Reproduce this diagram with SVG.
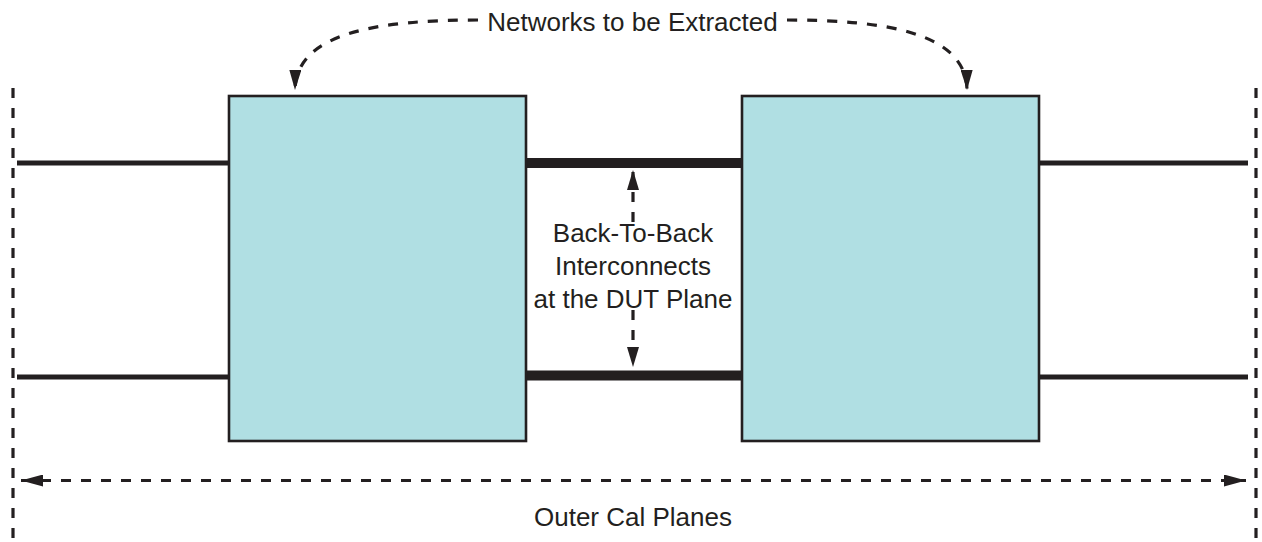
<svg xmlns="http://www.w3.org/2000/svg" width="1262" height="542" viewBox="0 0 1262 542">
<defs>
<style>
.box{fill:#b0dfe3;stroke:#231f20;stroke-width:2.6}
.wire{stroke:#231f20;stroke-width:5;fill:none}
.thick{stroke:#231f20;stroke-width:10;fill:none}
.dash{stroke:#231f20;stroke-width:3.2;fill:none;stroke-dasharray:10 10}
.lbl{font-family:"Liberation Sans",Arial,sans-serif;font-size:26px;fill:#231f20;text-anchor:middle}
</style>
<marker id="ah" viewBox="0 0 22 12" refX="22" refY="6" markerWidth="22" markerHeight="12" markerUnits="userSpaceOnUse" orient="auto-start-reverse">
<path d="M0,0 L22,6 L0,12 Z" fill="#231f20"/>
</marker>
<marker id="ahs" viewBox="0 0 20 12" refX="20" refY="6" markerWidth="20" markerHeight="12" markerUnits="userSpaceOnUse" orient="auto">
<path d="M0,0 L20,6 L0,12 Z" fill="#231f20"/>
</marker>
</defs>
<rect width="1262" height="542" fill="#ffffff"/>
<g id="connectors">
<line class="dash" x1="13" y1="88" x2="13" y2="542" stroke-dasharray="11 10"/>
<line class="dash" x1="1256" y1="88" x2="1256" y2="542" stroke-dasharray="11 10"/>
<line class="wire" x1="17" y1="163" x2="229" y2="163"/>
<line class="wire" x1="17" y1="377" x2="229" y2="377"/>
<line class="wire" x1="1039" y1="163" x2="1248" y2="163"/>
<line class="wire" x1="1039" y1="377" x2="1248" y2="377"/>
<line class="thick" x1="526" y1="163" x2="742" y2="163"/>
<line class="thick" x1="526" y1="375.5" x2="742" y2="375.5"/>
<line class="dash" x1="21" y1="480.5" x2="1246" y2="480.5" marker-start="url(#ah)" marker-end="url(#ah)" stroke-dasharray="0 23 9 12"/>
<path class="dash" d="M633,222 L633,170" marker-end="url(#ahs)" stroke-dasharray="0 2 10 10"/>
<path class="dash" d="M633,310 L633,367" marker-end="url(#ahs)"/>
<path class="dash" d="M478,20 C380,20 296,32 295,90" marker-end="url(#ahs)"/>
<path class="dash" d="M787,20 C884,20 966,32 967,90" marker-end="url(#ahs)"/>
</g>
<g id="left-network"><rect class="box" x="229" y="96" width="297" height="345"/></g>
<g id="right-network"><rect class="box" x="742" y="96" width="297" height="345"/></g>
<g id="labels">
<text class="lbl" x="632.5" y="31">Networks to be Extracted</text>
<text class="lbl" x="633" y="242">Back-To-Back</text>
<text class="lbl" x="633" y="275">Interconnects</text>
<text class="lbl" x="633" y="308">at the DUT Plane</text>
<text class="lbl" x="633" y="526">Outer Cal Planes</text>
</g>
</svg>
